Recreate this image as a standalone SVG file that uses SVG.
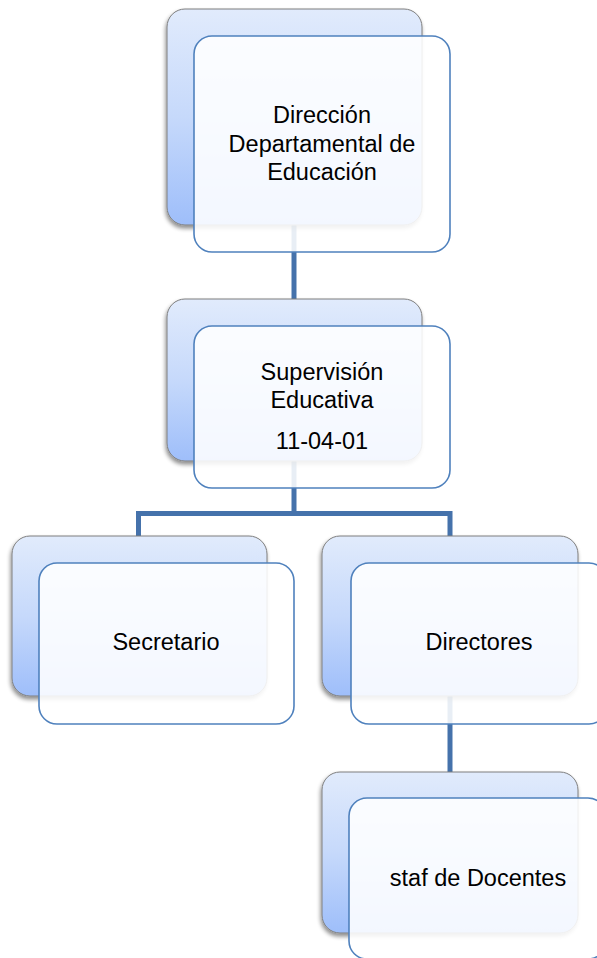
<svg xmlns="http://www.w3.org/2000/svg" width="597" height="958" viewBox="0 0 597 958">
<defs>
<linearGradient id="bg" x1="0" y1="0" x2="0" y2="1">
<stop offset="0" stop-color="#e1ebfc"/>
<stop offset="0.5" stop-color="#c6d9fb"/>
<stop offset="1" stop-color="#9ebefa"/>
</linearGradient>
<filter id="sh" x="-20%" y="-20%" width="140%" height="140%">
<feGaussianBlur in="SourceAlpha" stdDeviation="2"/>
<feOffset dx="-1" dy="3" result="b"/>
<feComponentTransfer><feFuncA type="linear" slope="0.45"/></feComponentTransfer>
<feMerge><feMergeNode/><feMergeNode in="SourceGraphic"/></feMerge>
</filter>
</defs>
<style>
.back{fill:url(#bg);stroke:#7f7f7f;stroke-width:1;filter:url(#sh)}
.front{fill:#ffffff;fill-opacity:0.88;stroke:#4f81bd;stroke-width:1.6}
.t{font-family:"Liberation Sans",Arial,sans-serif;font-size:23.5px;fill:#000;text-anchor:middle}
.c{fill:none;stroke:#4572ab;stroke-width:5}
</style>
<g id="connectors">
<path class="c" d="M294 224V299"/>
<path class="c" d="M294 461V513.5M138.5 536V513.5H450V536"/>
<path class="c" d="M450 696V772"/>
</g>
<g id="node1">
<rect class="back" x="167" y="9" width="255" height="216" rx="18"/>
<rect class="front" x="194" y="36" width="256" height="216" rx="18"/>
<text class="t" x="322" y="123">Dirección</text>
<text class="t" x="322" y="152">Departamental de</text>
<text class="t" x="322" y="180">Educación</text>
</g>
<g id="node2">
<rect class="back" x="167" y="299" width="255" height="162" rx="18"/>
<rect class="front" x="194" y="326" width="256" height="162" rx="18"/>
<text class="t" x="322" y="380">Supervisión</text>
<text class="t" x="322" y="408">Educativa</text>
<text class="t" x="322" y="449">11-04-01</text>
</g>
<g id="node3">
<rect class="back" x="12" y="536" width="255" height="160" rx="18"/>
<rect class="front" x="39" y="563" width="255" height="161" rx="18"/>
<text class="t" x="166" y="650">Secretario</text>
</g>
<g id="node4">
<rect class="back" x="322" y="536" width="256" height="160" rx="18"/>
<rect class="front" x="351" y="563" width="256" height="161" rx="18"/>
<text class="t" x="479" y="650">Directores</text>
</g>
<g id="node5">
<rect class="back" x="322" y="772" width="256" height="161" rx="18"/>
<rect class="front" x="349" y="798" width="257" height="161" rx="18"/>
<text class="t" x="478" y="886">staf de Docentes</text>
</g>
</svg>
